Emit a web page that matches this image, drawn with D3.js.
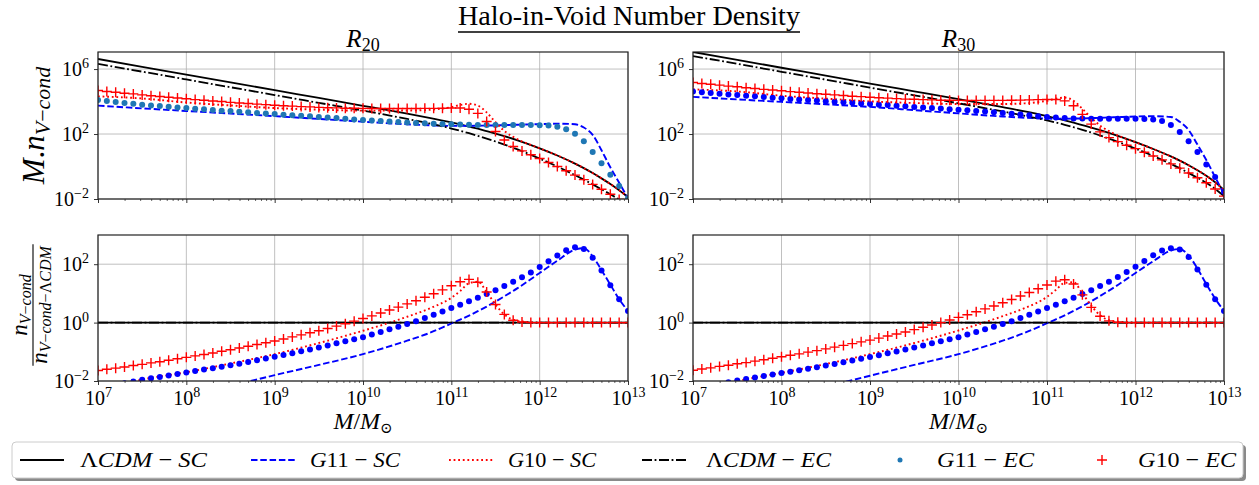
<!DOCTYPE html>
<html><head><meta charset="utf-8">
<script src="https://cdn.jsdelivr.net/npm/d3@7"></script>
<style>
body{margin:0;background:#fff}
svg{display:block}
text{font-family:"Liberation Serif","DejaVu Serif",serif;fill:#000}
</style></head>
<body><svg id="c" width="1259" height="485"></svg>
<script>
// ---------------- DATA (log10 values) ----------------
// marker grid: log10(M/Msun)
const logM = [7.0,7.1,7.2,7.3,7.4,7.5,7.6,7.7,7.8,7.9,8.0,8.1,8.2,8.3,8.4,8.5,8.6,8.7,8.8,8.9,9.0,9.1,9.2,9.3,9.4,9.5,9.6,9.7,9.8,9.9,10.0,10.1,10.2,10.3,10.4,10.5,10.6,10.7,10.8,10.9,11.0,11.1,11.2,11.3,11.4,11.5,11.6,11.7,11.8,11.9,12.0,12.1,12.2,12.3,12.4,12.5,12.6,12.7,12.8,12.9,13.0];
// line grid: log10(M/Msun)
const lineM = [7,7.5,8,8.5,9,9.5,10,10.5,10.75,11,11.1,11.2,11.3,11.4,11.5,11.6,11.75,12,12.2,12.4,12.5,12.6,12.7,12.8,12.9,13];
const flatM = [7,13];

// ---- R20 : M.n_{V-cond} ----
const lcdmSC_R20 = [6.62,6.14,5.66,5.18,4.70,4.22,3.74,3.25,2.99,2.71,2.59,2.46,2.33,2.18,2.03,1.87,1.61,1.12,0.68,0.18,-0.10,-0.40,-0.73,-1.08,-1.46,-1.88];
const g11SC_R20 = [3.75,3.58,3.42,3.26,3.10,2.93,2.76,2.60,2.54,2.50,2.50,2.50,2.51,2.52,2.53,2.55,2.57,2.61,2.64,2.60,2.40,1.95,1.00,-0.05,-1.00,-1.95];
const g10SC_R20 = [4.32,4.19,3.94,3.76,3.60,3.50,3.44,3.45,3.49,3.66,3.79,3.86,3.75,3.33,2.73,2.19,1.68,1.12,0.68,0.18,-0.10,-0.40,-0.73,-1.08,-1.46,-1.88];
const lcdmEC_R20 = [6.32,5.84,5.36,4.88,4.40,3.92,3.44,2.93,2.65,2.34,2.20,2.05,1.89,1.72,1.54,1.35,1.05,0.49,0.00,-0.53,-0.81,-1.10,-1.40,-1.71,-2.03,-2.36];
const g11EC_R20 = [4.10,4.03,3.97,3.91,3.86,3.81,3.76,3.72,3.68,3.64,3.60,3.56,3.52,3.48,3.44,3.41,3.37,3.34,3.30,3.27,3.23,3.19,3.16,3.12,3.09,3.05,3.01,2.98,2.94,2.90,2.86,2.83,2.80,2.77,2.74,2.71,2.68,2.66,2.64,2.62,2.60,2.58,2.57,2.56,2.55,2.55,2.55,2.55,2.55,2.55,2.54,2.52,2.45,2.30,2.02,1.55,0.90,0.20,-0.50,-1.20,-1.95];
const g10EC_R20 = [4.68,4.62,4.57,4.51,4.47,4.41,4.36,4.31,4.26,4.22,4.17,4.12,4.08,4.03,4.00,3.95,3.91,3.88,3.84,3.81,3.77,3.74,3.72,3.69,3.67,3.64,3.62,3.61,3.59,3.59,3.58,3.57,3.57,3.57,3.57,3.57,3.57,3.58,3.58,3.59,3.60,3.60,3.53,3.27,2.77,2.16,1.63,1.23,0.96,0.72,0.49,0.25,0.00,-0.26,-0.53,-0.81,-1.10,-1.40,-1.71,-2.03,-2.36];

// ---- R30 : M.n_{V-cond} ----
const lcdmSC_R30 = [7.05,6.57,6.08,5.60,5.11,4.63,4.15,3.65,3.39,3.10,2.97,2.84,2.70,2.55,2.40,2.24,1.98,1.50,1.08,0.62,0.36,0.08,-0.23,-0.57,-0.97,-1.45];
const g11SC_R30 = [4.29,4.13,3.98,3.83,3.67,3.47,3.27,3.08,3.00,2.95,2.94,2.94,2.95,2.96,2.98,3.00,3.03,3.08,3.10,3.05,2.75,2.25,1.35,0.40,-0.65,-1.70];
const g10SC_R30 = [4.75,4.62,4.36,4.18,4.01,3.91,3.85,3.85,3.89,4.05,4.17,4.24,4.05,3.55,3.00,2.52,2.04,1.50,1.08,0.62,0.36,0.08,-0.23,-0.57,-0.97,-1.45];
const lcdmEC_R30 = [6.80,6.32,5.83,5.35,4.86,4.38,3.89,3.39,3.12,2.84,2.71,2.57,2.42,2.26,2.09,1.91,1.62,1.10,0.65,0.16,-0.10,-0.40,-0.69,-1.00,-1.38,-1.82];
const g11EC_R30 = [4.62,4.57,4.53,4.48,4.44,4.40,4.36,4.32,4.28,4.24,4.20,4.16,4.13,4.09,4.06,4.02,3.99,3.95,3.92,3.88,3.85,3.81,3.78,3.74,3.71,3.67,3.64,3.60,3.57,3.53,3.50,3.46,3.42,3.38,3.34,3.30,3.25,3.20,3.15,3.10,3.05,3.01,2.98,2.96,2.95,2.94,2.94,2.94,2.94,2.94,2.94,2.93,2.90,2.80,2.55,2.12,1.55,0.90,0.12,-0.65,-1.55];
const g10EC_R30 = [5.17,5.11,5.06,5.01,4.95,4.91,4.85,4.80,4.75,4.71,4.66,4.61,4.57,4.53,4.48,4.45,4.41,4.37,4.33,4.30,4.26,4.23,4.21,4.18,4.15,4.14,4.12,4.10,4.08,4.08,4.07,4.06,4.07,4.07,4.07,4.07,4.08,4.09,4.10,4.12,4.13,4.13,4.04,3.74,3.21,2.61,2.13,1.78,1.53,1.31,1.10,0.88,0.65,0.41,0.16,-0.10,-0.40,-0.69,-1.00,-1.38,-1.82];

// ---- ratios n_{V-cond} / n_{V-cond-LCDM} ----
const ratioLCDM = [0,0];
const g11SC_ratio_R20 = [-3.40,-3.00,-2.60,-2.18,-1.80,-1.45,-1.08,-0.62,-0.36,-0.03,0.10,0.24,0.39,0.55,0.72,0.90,1.18,1.70,2.12,2.50,2.55,2.27,1.80,1.30,0.80,0.40];
const g10SC_ratio_R20 = [-2.30,-1.95,-1.70,-1.40,-1.08,-0.70,-0.28,0.20,0.48,0.85,1.08,1.35,1.40,1.05,0.62,0.28,0.06,0,0,0,0,0,0,0,0,0];
const g11EC_ratio_R20 = [-2.25,-2.20,-2.14,-2.08,-2.02,-1.96,-1.91,-1.86,-1.81,-1.76,-1.71,-1.66,-1.61,-1.56,-1.51,-1.46,-1.41,-1.35,-1.29,-1.23,-1.17,-1.11,-1.05,-0.98,-0.92,-0.85,-0.78,-0.71,-0.64,-0.57,-0.50,-0.41,-0.32,-0.23,-0.14,-0.05,0.05,0.16,0.27,0.38,0.50,0.61,0.73,0.85,0.98,1.11,1.25,1.40,1.55,1.72,1.90,2.10,2.30,2.48,2.58,2.52,2.22,1.78,1.28,0.80,0.40];
const g10EC_ratio_R20 = [-1.64,-1.60,-1.56,-1.52,-1.47,-1.43,-1.38,-1.34,-1.29,-1.24,-1.19,-1.14,-1.09,-1.04,-0.98,-0.93,-0.87,-0.81,-0.75,-0.69,-0.63,-0.56,-0.49,-0.42,-0.35,-0.28,-0.20,-0.12,-0.04,0.05,0.14,0.23,0.33,0.43,0.53,0.64,0.75,0.87,0.99,1.12,1.26,1.40,1.48,1.38,1.05,0.62,0.28,0.08,0.02,0,0,0,0,0,0,0,0,0,0,0,0];

const g11SC_ratio_R30 = [-3.40,-3.00,-2.60,-2.20,-1.82,-1.45,-1.08,-0.62,-0.35,-0.02,0.11,0.25,0.40,0.56,0.73,0.91,1.19,1.70,2.10,2.47,2.52,2.30,1.85,1.32,0.82,0.40];
const g10SC_ratio_R30 = [-2.35,-2.00,-1.72,-1.42,-1.08,-0.70,-0.27,0.22,0.50,0.88,1.12,1.36,1.38,1.00,0.58,0.25,0.05,0,0,0,0,0,0,0,0,0];
const g11EC_ratio_R30 = [-2.28,-2.22,-2.16,-2.10,-2.04,-1.98,-1.93,-1.88,-1.83,-1.78,-1.73,-1.68,-1.63,-1.58,-1.53,-1.47,-1.42,-1.36,-1.30,-1.24,-1.18,-1.12,-1.05,-0.99,-0.92,-0.85,-0.78,-0.71,-0.64,-0.57,-0.50,-0.41,-0.32,-0.23,-0.14,-0.05,0.05,0.16,0.27,0.38,0.50,0.61,0.73,0.85,0.98,1.11,1.25,1.40,1.56,1.73,1.91,2.11,2.31,2.47,2.55,2.50,2.25,1.82,1.30,0.80,0.40];
const g10EC_ratio_R30 = [-1.63,-1.59,-1.55,-1.50,-1.46,-1.41,-1.37,-1.32,-1.27,-1.22,-1.17,-1.12,-1.07,-1.01,-0.96,-0.90,-0.84,-0.78,-0.72,-0.66,-0.60,-0.53,-0.46,-0.39,-0.32,-0.24,-0.16,-0.08,0.00,0.09,0.18,0.27,0.37,0.47,0.57,0.68,0.79,0.91,1.03,1.16,1.29,1.42,1.47,1.32,0.95,0.52,0.22,0.06,0.01,0,0,0,0,0,0,0,0,0,0,0,0];

// tick values
const xMajorExp = [7,8,9,10,11,12,13];
const yTopTickExp = [-2,2,6];
const yBotTickExp = [-2,0,2];
const panelTitles = ["20","30"];
const legendLabels = ["ΛCDM − SC","G11 − SC","G10 − SC","ΛCDM − EC","G11 − EC","G10 − EC"];

// ---------------- LAYOUT ----------------
const svg = d3.select('#c');
const cols = [[98,628],[693,1224]];
const rowTop = [52,199], rowBot = [235,381];
const yTopDomain = [1e-2, Math.pow(10,7.05)];
const yBotDomain = [1e-2, 1e3];
const P = v => Math.pow(10, v);

const style = {
  solid:  {stroke:'#000', w:1.8, dash:null},
  dashed: {stroke:'#0000ff', w:1.9, dash:'6.5,2.8'},
  dotted: {stroke:'#ff0000', w:1.9, dash:'1.8,2.8'},
  dashdot:{stroke:'#000', w:1.8, dash:'10,2.6,1.8,2.6'}
};

let clipId = 0;
function panel(col, row, yDomain, yTickExp, showXLabels, series){
  const [x0,x1] = cols[col], [y0,y1] = row;
  const x = d3.scaleLog().domain([1e7,1e13]).range([x0,x1]);
  const y = d3.scaleLog().domain(yDomain).range([y1,y0]);
  const g = svg.append('g');
  const id = 'clip'+(clipId++);
  svg.append('clipPath').attr('id',id).append('rect').attr('x',x0).attr('y',y0).attr('width',x1-x0).attr('height',y1-y0);
  // grid
  const grid = g.append('g').attr('stroke','#b0b0b0').attr('stroke-width',0.8);
  xMajorExp.forEach(e=>{ const xx=x(P(e)); grid.append('line').attr('x1',xx).attr('x2',xx).attr('y1',y0).attr('y2',y1);});
  yTickExp.forEach(e=>{ const yy=y(P(e)); grid.append('line').attr('x1',x0).attr('x2',x1).attr('y1',yy).attr('y2',yy);});
  const sg = g.append('g').attr('clip-path',`url(#${id})`);
  series.forEach(s=>{
    if(s.type==='line'){
      const st = style[s.style];
      const line = d3.line().x((d,i)=>x(P(s.xs[i]))).y(d=>y(P(d))).curve(d3.curveMonotoneX);
      sg.append('path').datum(s.vals).attr('d',line).attr('fill','none')
        .attr('stroke',st.stroke).attr('stroke-width',st.w).attr('stroke-dasharray',st.dash);
    } else if(s.type==='dot'){
      sg.append('g').selectAll('circle').data(s.vals).join('circle')
        .attr('cx',(d,i)=>x(P(s.xs[i]))).attr('cy',d=>y(P(d))).attr('r',3).attr('fill',s.color);
    } else if(s.type==='plus'){
      sg.append('g').selectAll('path').data(s.vals).join('path')
        .attr('transform',(d,i)=>`translate(${x(P(s.xs[i]))},${y(P(d))})`)
        .attr('d','M-5,0H5M0,-5V5').attr('stroke','#ff0000').attr('stroke-width',1.4).attr('fill','none');
    }
  });
  // axes
  const xa = g.append('g').attr('transform',`translate(0,${y1})`)
    .call(d3.axisBottom(x).tickValues(xMajorExp.map(P)).tickSize(4).tickPadding(6).tickFormat(d=>d));
  const minors = [];
  for(let e=7;e<13;e++) for(let k=2;k<10;k++) minors.push(k*P(e));
  g.append('g').attr('transform',`translate(0,${y1})`)
    .call(d3.axisBottom(x).tickValues(minors).tickSize(2).tickFormat(''))
    .call(a=>a.select('.domain').remove()).selectAll('line').attr('stroke-width',0.6);
  const ya = g.append('g').attr('transform',`translate(${x0},0)`)
    .call(d3.axisLeft(y).tickValues(yTickExp.map(P)).tickSize(4).tickPadding(5).tickFormat(d=>d));
  [xa,ya].forEach(a=>{
    a.select('.domain').remove();
    a.attr('font-family',null).attr('font-size',20);
    a.selectAll('line').attr('stroke-width',0.8);
  });
  const expLabel = sel => sel.each(function(d){
    const e = Math.round(Math.log10(d));
    const t = d3.select(this).text(null).attr('fill','#000');
    t.append('tspan').attr('font-size',20).text('10');
    t.append('tspan').attr('font-size',14).attr('dy',-8).text((e<0?'−':'')+Math.abs(e));
  });
  if(showXLabels) xa.selectAll('text').call(expLabel); else xa.selectAll('text').remove();
  ya.selectAll('text').call(expLabel);
  // frame
  g.append('rect').attr('x',x0).attr('y',y0).attr('width',x1-x0).attr('height',y1-y0)
    .attr('fill','none').attr('stroke','#222').attr('stroke-width',1.2);
  return {x,y};
}

const mk = (type, xs, vals, extra) => Object.assign({type, xs, vals}, extra||{});

panel(0, rowTop, yTopDomain, yTopTickExp, false, [
  mk('line', lineM, lcdmSC_R20, {style:'solid'}),
  mk('line', lineM, g11SC_R20, {style:'dashed'}),
  mk('line', lineM, g10SC_R20, {style:'dotted'}),
  mk('line', lineM, lcdmEC_R20, {style:'dashdot'}),
  mk('dot', logM, g11EC_R20, {color:'#1f77b4'}),
  mk('plus', logM, g10EC_R20)
]);
panel(1, rowTop, yTopDomain, yTopTickExp, false, [
  mk('line', lineM, lcdmSC_R30, {style:'solid'}),
  mk('line', lineM, g11SC_R30, {style:'dashed'}),
  mk('line', lineM, g10SC_R30, {style:'dotted'}),
  mk('line', lineM, lcdmEC_R30, {style:'dashdot'}),
  mk('dot', logM, g11EC_R30, {color:'#0000ff'}),
  mk('plus', logM, g10EC_R30)
]);
panel(0, rowBot, yBotDomain, yBotTickExp, true, [
  mk('line', flatM, ratioLCDM, {style:'solid'}),
  mk('line', lineM, g11SC_ratio_R20, {style:'dashed'}),
  mk('line', lineM, g10SC_ratio_R20, {style:'dotted'}),
  mk('line', flatM, ratioLCDM, {style:'dashdot'}),
  mk('dot', logM, g11EC_ratio_R20, {color:'#0000ff'}),
  mk('plus', logM, g10EC_ratio_R20)
]);
panel(1, rowBot, yBotDomain, yBotTickExp, true, [
  mk('line', flatM, ratioLCDM, {style:'solid'}),
  mk('line', lineM, g11SC_ratio_R30, {style:'dashed'}),
  mk('line', lineM, g10SC_ratio_R30, {style:'dotted'}),
  mk('line', flatM, ratioLCDM, {style:'dashdot'}),
  mk('dot', logM, g11EC_ratio_R30, {color:'#0000ff'}),
  mk('plus', logM, g10EC_ratio_R30)
]);

// -------- math-ish text helper --------
function runs(t, s, size, dy){
  const re = /([A-Za-z]+)|([^A-Za-z]+)/g; let m, first=true;
  while((m = re.exec(s))){
    const ts = t.append('tspan').attr('font-size',size)
      .attr('font-style', m[1] ? 'italic' : 'normal').text(m[0]);
    if(first && dy) ts.attr('dy',dy);
    first=false;
  }
}

// title
svg.append('text').attr('x',629).attr('y',25).attr('text-anchor','middle')
  .attr('font-size',27).attr('textLength',342).attr('lengthAdjust','spacingAndGlyphs').text('Halo-in-Void Number Density');
svg.append('line').attr('x1',458).attr('x2',800).attr('y1',32).attr('y2',32).attr('stroke','#000').attr('stroke-width',1.4);

// panel titles
panelTitles.forEach((s,i)=>{
  const t = svg.append('text').attr('x',(cols[i][0]+cols[i][1])/2).attr('y',47).attr('text-anchor','middle');
  runs(t,'R',25); runs(t,s,18,4);
});

// x labels
cols.forEach(c=>{
  const t = svg.append('text').attr('x',(c[0]+c[1])/2).attr('y',429).attr('text-anchor','middle');
  runs(t,'M/M',24); t.append('tspan').attr('font-size',15).attr('dy',4).text('⊙');
});

// y label top
{
  const t = svg.append('text').attr('transform',`translate(44,${(rowTop[0]+rowTop[1])/2}) rotate(-90)`).attr('text-anchor','middle');
  runs(t,'M.n',31); runs(t,'V−cond',22,6);
}
// y label bottom (fraction)
{
  const cy = (rowBot[0]+rowBot[1])/2 - 3;
  const g = svg.append('g').attr('transform',`translate(33,${cy}) rotate(-90)`);
  const num = g.append('text').attr('x',0).attr('y',-6).attr('text-anchor','middle');
  runs(num,'n',23); runs(num,'V−cond',16,4);
  const den = g.append('text').attr('x',0).attr('y',14).attr('text-anchor','middle');
  runs(den,'n',23); runs(den,'V−cond−',16,4); den.append('tspan').attr('font-size',16).text('Λ'); runs(den,'CDM',16);
  const L = den.node().getComputedTextLength();
  g.append('line').attr('x1',-L/2-2).attr('x2',L/2+2).attr('y1',0).attr('y2',0).attr('stroke','#000').attr('stroke-width',1.1);
}

// legend
{
  const lg = svg.append('g');
  lg.append('rect').attr('x',15).attr('y',445).attr('width',1231).attr('height',36).attr('rx',4).attr('fill','#8a8a8a');
  lg.append('rect').attr('x',12).attr('y',442).attr('width',1231).attr('height',36).attr('rx',4).attr('fill','#fff').attr('stroke','#cccccc').attr('stroke-width',1);
  const ly = 460;
  const handles = [
    {k:'solid', x1:20, x2:64}, {k:'dashed', x1:251, x2:295}, {k:'dotted', x1:449, x2:493},
    {k:'dashdot', x1:642, x2:686}, {k:'dot', cx:900}, {k:'plus', cx:1102}
  ];
  const textX = [80,310,508,706,937,1138];
  const textW = [127,90,88,125,97,98];
  handles.forEach((h,i)=>{
    if(style[h.k]){
      const st = style[h.k];
      lg.append('line').attr('x1',h.x1).attr('x2',h.x2).attr('y1',ly).attr('y2',ly)
        .attr('stroke',st.stroke).attr('stroke-width',st.w).attr('stroke-dasharray',st.dash);
    } else if(h.k==='dot'){
      lg.append('circle').attr('cx',h.cx).attr('cy',ly).attr('r',2.5).attr('fill','#1f77b4');
    } else {
      lg.append('path').attr('d',`M${h.cx-5},${ly}H${h.cx+5}M${h.cx},${ly-5}V${ly+5}`).attr('stroke','#ff0000').attr('stroke-width',1.4);
    }
    const t = lg.append('text').attr('x',textX[i]).attr('y',467)
      .attr('textLength',textW[i]).attr('lengthAdjust','spacingAndGlyphs');
    const s = legendLabels[i];
    const re = /([A-Za-z]+)|([^A-Za-z]+)/g; let m;
    while((m=re.exec(s))){
      t.append('tspan').attr('font-size',22).attr('font-style',m[1]?'italic':'normal').text(m[0]);
    }
  });
}
</script>
</body></html>
